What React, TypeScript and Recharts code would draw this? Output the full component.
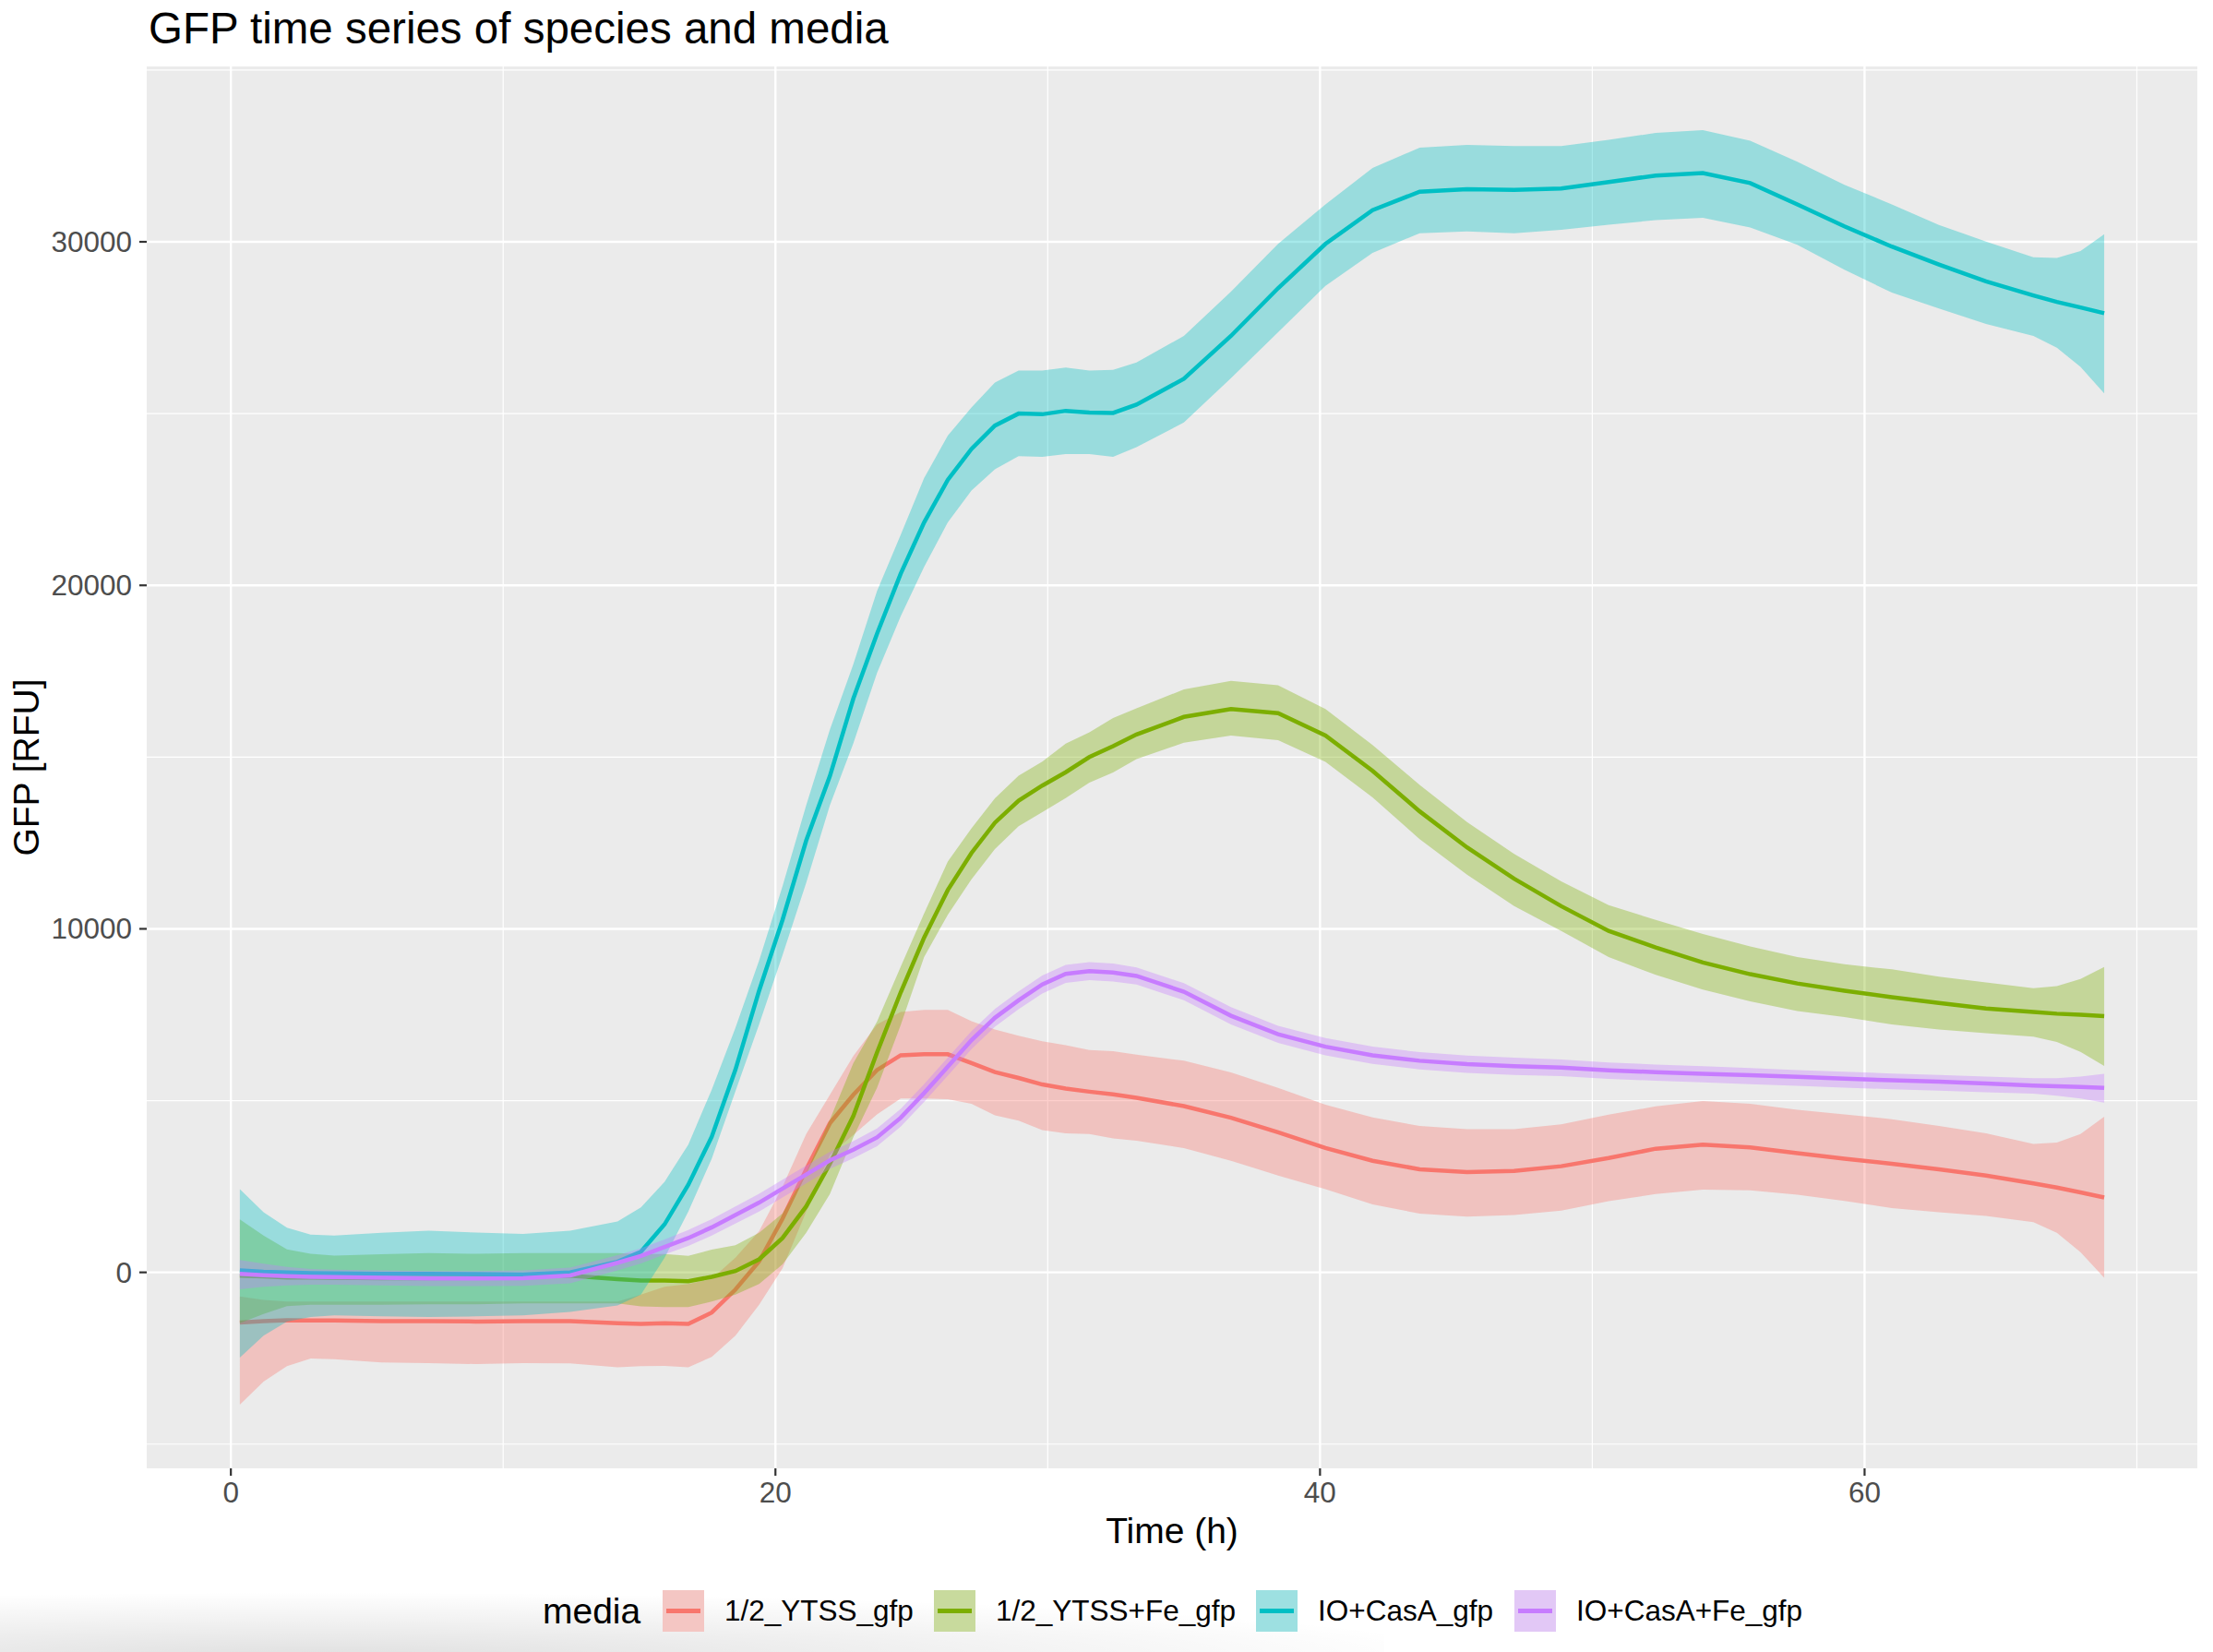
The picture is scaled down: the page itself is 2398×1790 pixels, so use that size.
import { ComposedChart, Area, Line, XAxis, YAxis, CartesianGrid } from 'recharts';

// sampling times (h)
const TIME_H = [0.33, 1.2, 2.06, 2.93, 3.8, 5.53, 7.26, 9, 10.73, 12.46, 14.2, 15.06, 15.93, 16.8, 17.66, 18.53, 19.4, 20.26, 21.13, 22, 22.86, 23.73, 24.6, 25.46, 26.33, 27.2, 28.06, 28.93, 29.8, 30.66, 31.53, 32.4, 33.26, 35, 36.73, 38.46, 40.2, 41.93, 43.66, 45.4, 47.13, 48.86, 50.6, 52.33, 54.06, 55.8, 57.53, 59.26, 61, 62.73, 64.46, 66.2, 67.06, 67.93, 68.8];

// 1/2_YTSS_gfp
const YTSS_MEAN = [-1460, -1420, -1390, -1400, -1400, -1420, -1420, -1430, -1420, -1420, -1480, -1500, -1480, -1500, -1170, -500, 320, 1560, 3000, 4340, 5170, 5890, 6320, 6350, 6350, 6090, 5830, 5660, 5470, 5350, 5260, 5180, 5080, 4840, 4500, 4080, 3620, 3250, 3000, 2920, 2950, 3090, 3330, 3600, 3720, 3640, 3470, 3310, 3160, 3000, 2820, 2590, 2470, 2330, 2180];
const YTSS_HI = [-700, -800, -850, -850, -850, -850, -850, -850, -850, -850, -850, -650, -420, -340, -190, 430, 1200, 2490, 4030, 5170, 6300, 7220, 7580, 7640, 7640, 7310, 7070, 6890, 6730, 6610, 6470, 6440, 6340, 6160, 5820, 5370, 4880, 4510, 4260, 4170, 4170, 4310, 4590, 4830, 4990, 4910, 4730, 4600, 4460, 4260, 4050, 3740, 3780, 4030, 4530];
const YTSS_LO = [-3850, -3180, -2730, -2510, -2530, -2620, -2640, -2670, -2640, -2650, -2760, -2730, -2720, -2760, -2460, -1840, -940, 120, 1770, 3420, 4000, 4600, 5060, 5060, 5040, 4910, 4570, 4420, 4140, 4050, 4030, 3900, 3830, 3620, 3250, 2820, 2420, 1980, 1710, 1620, 1670, 1800, 2070, 2280, 2410, 2390, 2260, 2080, 1870, 1750, 1640, 1460, 1150, 590, -160];

// 1/2_YTSS+Fe_gfp
const YTSS_FE_MEAN = [-100, -120, -150, -150, -160, -170, -170, -160, -120, -100, -200, -240, -240, -260, -130, 40, 380, 1000, 1920, 3160, 4550, 6400, 8150, 9745, 11130, 12210, 13090, 13730, 14170, 14560, 15000, 15320, 15660, 16170, 16400, 16280, 15630, 14600, 13420, 12370, 11460, 10660, 9940, 9460, 9020, 8680, 8410, 8200, 8010, 7840, 7680, 7580, 7530, 7500, 7460];
const YTSS_FE_HI = [1540, 1075, 670, 540, 490, 530, 560, 540, 560, 560, 560, 535, 535, 480, 660, 790, 1150, 1720, 2900, 4450, 6090, 7300, 8900, 10450, 11960, 12930, 13800, 14460, 14870, 15390, 15720, 16140, 16420, 16970, 17220, 17090, 16400, 15350, 14190, 13110, 12180, 11380, 10690, 10260, 9850, 9490, 9180, 8970, 8820, 8610, 8440, 8270, 8330, 8540, 8890];
const YTSS_FE_LO = [-1480, -1210, -985, -940, -940, -940, -930, -930, -900, -900, -900, -990, -1010, -1010, -850, -650, -340, 230, 1150, 2280, 3930, 5370, 7200, 9180, 10410, 11440, 12320, 12990, 13400, 13810, 14260, 14550, 14940, 15420, 15630, 15490, 14860, 13830, 12610, 11580, 10660, 9940, 9180, 8660, 8230, 7890, 7610, 7430, 7220, 7070, 6960, 6860, 6710, 6420, 6010];

// IO+CasA_gfp
const CASA_MEAN = [60, 20, 0, -20, -30, -40, -40, -50, -60, 0, 310, 600, 1400, 2550, 3950, 5900, 8200, 10260, 12570, 14450, 16700, 18590, 20340, 21830, 23070, 23970, 24650, 25000, 24980, 25080, 25030, 25020, 25260, 26010, 27260, 28650, 29940, 30920, 31460, 31530, 31510, 31550, 31740, 31930, 32000, 31710, 31090, 30450, 29860, 29340, 28850, 28440, 28250, 28090, 27920];
const CASA_HI = [2420, 1750, 1300, 1100, 1075, 1150, 1210, 1160, 1120, 1210, 1480, 1890, 2640, 3720, 5320, 7120, 9080, 11240, 13600, 15800, 17700, 19830, 21470, 23120, 24360, 25180, 25900, 26250, 26250, 26340, 26250, 26270, 26490, 27260, 28550, 29940, 31090, 32150, 32740, 32820, 32790, 32790, 32970, 33170, 33250, 32940, 32330, 31660, 31090, 30490, 30010, 29550, 29530, 29730, 30220];
const CASA_LO = [-2480, -1840, -1430, -1300, -1250, -1280, -1300, -1280, -1250, -1150, -960, -650, 430, 1770, 3310, 5270, 7220, 9230, 11340, 13600, 15400, 17450, 19100, 20540, 21830, 22760, 23380, 23760, 23740, 23820, 23820, 23740, 24020, 24740, 26030, 27370, 28720, 29680, 30250, 30300, 30250, 30350, 30500, 30630, 30700, 30420, 29910, 29190, 28520, 28060, 27610, 27260, 26920, 26360, 25590];

// IO+CasA+Fe_gfp
const CASA_FE_MEAN = [-45, -80, -110, -130, -140, -160, -180, -180, -170, -90, 280, 480, 740, 1000, 1310, 1670, 2030, 2440, 2850, 3260, 3570, 3930, 4500, 5220, 5990, 6760, 7410, 7920, 8380, 8690, 8770, 8730, 8630, 8170, 7470, 6930, 6570, 6320, 6160, 6060, 6000, 5960, 5880, 5830, 5780, 5740, 5690, 5640, 5590, 5550, 5500, 5440, 5420, 5400, 5370];
const CASA_FE_HI = [360, 250, 160, 100, 80, 60, 40, 40, 60, 140, 500, 700, 960, 1230, 1550, 1920, 2290, 2700, 3110, 3510, 3820, 4190, 4760, 5480, 6250, 7020, 7670, 8180, 8640, 8950, 9030, 8990, 8880, 8420, 7720, 7180, 6820, 6570, 6410, 6310, 6250, 6200, 6110, 6050, 6000, 5950, 5890, 5840, 5790, 5750, 5700, 5650, 5650, 5700, 5780];
const CASA_FE_LO = [-490, -420, -380, -360, -360, -380, -400, -400, -390, -320, 60, 260, 520, 770, 1070, 1420, 1770, 2180, 2590, 3010, 3320, 3670, 4240, 4960, 5730, 6500, 7150, 7660, 8120, 8430, 8510, 8470, 8380, 7920, 7220, 6680, 6320, 6070, 5910, 5810, 5750, 5710, 5630, 5580, 5530, 5480, 5430, 5380, 5330, 5290, 5240, 5200, 5140, 5060, 4940];

const MEDIA = ['1/2_YTSS_gfp', '1/2_YTSS+Fe_gfp', 'IO+CasA_gfp', 'IO+CasA+Fe_gfp'];
const COLORS = ['#F8766D', '#7CAE00', '#00BFC4', '#C77CFF'];

const X_TICKS = [0, 20, 40, 60];
const X_MINOR = [10, 30, 50, 70];
const Y_TICKS = [0, 10000, 20000, 30000];
const Y_MINOR = [-5000, 5000, 15000, 25000, 35000];

const SERIES = [
  { mean: YTSS_MEAN, hi: YTSS_HI, lo: YTSS_LO },
  { mean: YTSS_FE_MEAN, hi: YTSS_FE_HI, lo: YTSS_FE_LO },
  { mean: CASA_MEAN, hi: CASA_HI, lo: CASA_LO },
  { mean: CASA_FE_MEAN, hi: CASA_FE_HI, lo: CASA_FE_LO },
];

const data = TIME_H.map((t, i) => {
  const row: Record<string, number | number[]> = { t };
  SERIES.forEach((s, k) => {
    row['m' + k] = s.mean[i];
    row['r' + k] = [s.lo[i], s.hi[i]];
  });
  return row;
});

const W = 2398;
const H = 1790;
const FONT = '"Liberation Sans", Arial, Helvetica, sans-serif';

const XTick = (props: any) => {
  const { x, y, payload } = props;
  return (
    <text x={x} y={y} dy={23} textAnchor="middle" fill="#4D4D4D" fontSize={31.5} fontFamily={FONT}>
      {payload.value}
    </text>
  );
};

const YTick = (props: any) => {
  const { x, y, payload } = props;
  return (
    <text x={x} y={y} dy={11} textAnchor="end" fill="#4D4D4D" fontSize={31.5} fontFamily={FONT}>
      {payload.value}
    </text>
  );
};

const LEGEND_X = [718, 1012, 1361, 1641];

export default function App() {
  return (
    <div style={{ position: 'absolute', left: 0, top: 0, width: W, height: H, background: '#fff', fontFamily: FONT }}>
      <div
        style={{
          position: 'absolute',
          left: 0,
          top: 1720,
          width: 1500,
          height: 70,
          background: 'radial-gradient(ellipse 1250px 70px at 350px 75px, rgba(0,0,0,0.12), rgba(0,0,0,0) 100%)',
        }}
      />
      <div style={{ position: 'absolute', left: 0, top: 0 }}>
        <ComposedChart width={W} height={H} data={data} margin={{ top: 72, right: 17, bottom: 139, left: 59 }}>
          <CartesianGrid fill="#EBEBEB" stroke="#FFFFFF" strokeWidth={2.4} horizontalValues={Y_TICKS} verticalValues={X_TICKS} />
          <CartesianGrid stroke="#FFFFFF" strokeWidth={1.2} horizontalValues={Y_MINOR} verticalValues={X_MINOR} />
          <XAxis
            type="number"
            dataKey="t"
            domain={[-3.09, 72.22]}
            ticks={X_TICKS}
            allowDataOverflow
            height={60}
            axisLine={false}
            tickSize={8}
            tickMargin={6}
            tickLine={{ stroke: '#333333', strokeWidth: 2.2 }}
            tick={<XTick />}
          />
          <YAxis
            type="number"
            domain={[-5705, 35105]}
            ticks={Y_TICKS}
            allowDataOverflow
            width={100}
            axisLine={false}
            tickSize={8}
            tickMargin={8}
            tickLine={{ stroke: '#333333', strokeWidth: 2.2 }}
            tick={<YTick />}
          />
          {COLORS.flatMap((c, k) => [
            <Area
              key={'a' + k}
              type="linear"
              dataKey={'r' + k}
              stroke="none"
              fill={c}
              fillOpacity={0.35}
              activeDot={false}
              isAnimationActive={false}
              {...({ zIndex: 101 + 2 * k } as any)}
            />,
            <Line
              key={'l' + k}
              type="linear"
              dataKey={'m' + k}
              stroke={c}
              strokeWidth={4.5}
              dot={false}
              activeDot={false}
              isAnimationActive={false}
              {...({ zIndex: 102 + 2 * k } as any)}
            />,
          ])}
        </ComposedChart>
      </div>
      <svg width={W} height={H} style={{ position: 'absolute', left: 0, top: 0, pointerEvents: 'none' }} fontFamily={FONT}>
        <text x={161} y={47} fontSize={47.5} fill="#000">GFP time series of species and media</text>
        <text transform="translate(42,831.5) rotate(-90)" textAnchor="middle" fontSize={39} fill="#000">GFP [RFU]</text>
        <text x={1270} y={1672} textAnchor="middle" fontSize={39} fill="#000">Time (h)</text>
        <text x={588} y={1759} fontSize={39} fill="#000">media</text>
        {MEDIA.map((m, k) => (
          <g key={m}>
            <rect x={LEGEND_X[k]} y={1723} width={45} height={45} fill="#F2F2F2" />
            <rect x={LEGEND_X[k]} y={1723} width={45} height={45} fill={COLORS[k]} fillOpacity={0.35} />
            <line x1={LEGEND_X[k] + 4} x2={LEGEND_X[k] + 41} y1={1745.5} y2={1745.5} stroke={COLORS[k]} strokeWidth={5} />
            <text x={LEGEND_X[k] + 67} y={1756} fontSize={31.5} fill="#000">{m}</text>
          </g>
        ))}
      </svg>
    </div>
  );
}
